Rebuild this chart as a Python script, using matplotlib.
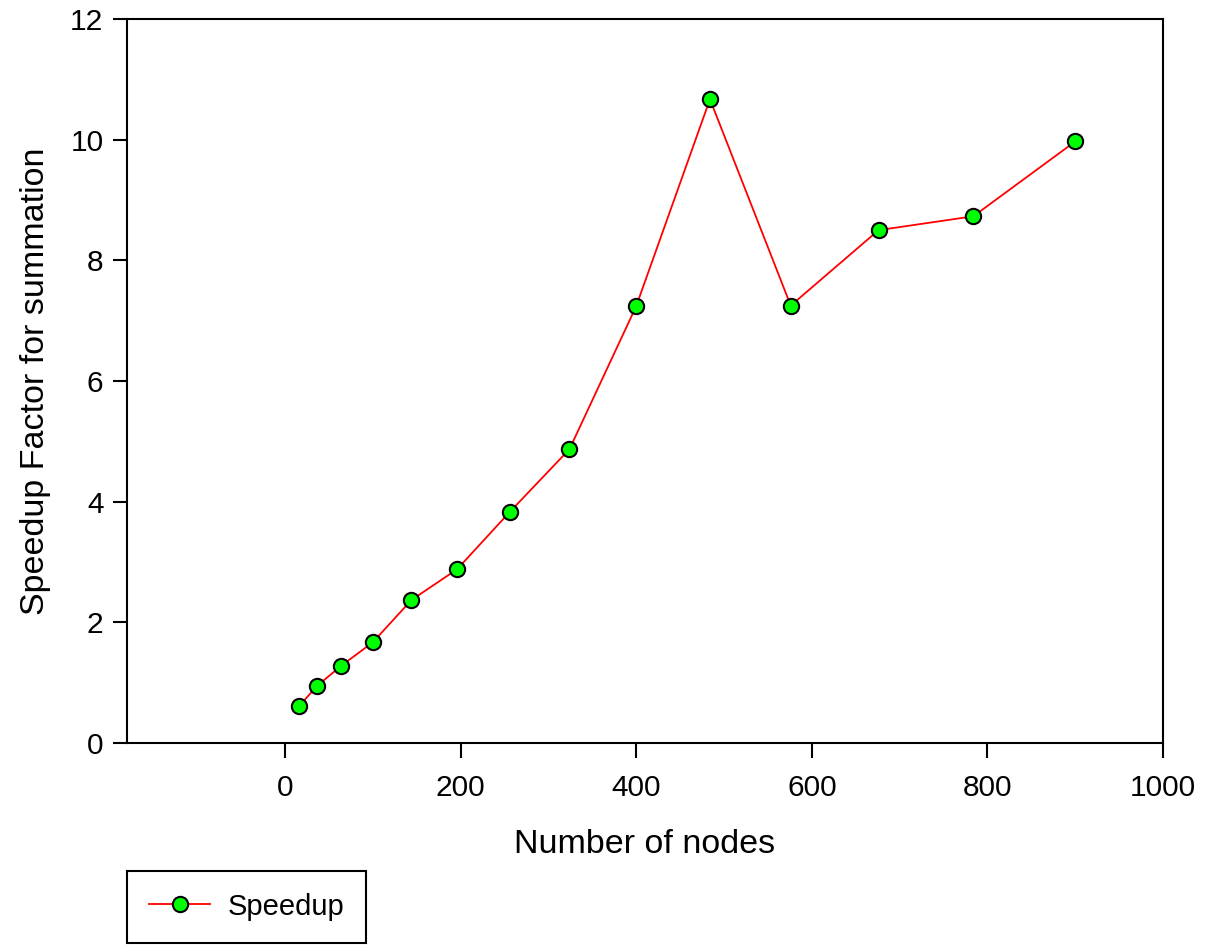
import matplotlib
matplotlib.use("Agg")
import matplotlib.pyplot as plt

plt.rcParams['font.family'] = ['Liberation Sans', 'DejaVu Sans']

nodes = [16, 36, 64, 100, 144, 196, 256, 324, 400, 484, 576, 676, 784, 900]
speedup = [0.61, 0.94, 1.28, 1.67, 2.37, 2.88, 3.83, 4.87, 7.24, 10.67, 7.25, 8.50, 8.73, 9.97]

fig = plt.figure(figsize=(12.07, 9.52), dpi=100)
ax = fig.add_axes([127/1207, 1 - 743/952, (1163-127)/1207, (743-19)/952])

line, = ax.plot(nodes, speedup, color="red", linewidth=1.3, marker="o", markersize=11,
                markerfacecolor="#00ff00", markeredgecolor="black", markeredgewidth=1.5,
                label="Speedup")

ax.set_xlim(-180, 1000)
ax.set_ylim(0, 12)
ax.set_xticks([0, 200, 400, 600, 800, 1000])
ax.set_yticks([0, 2, 4, 6, 8, 10, 12])
ax.tick_params(direction="out", length=10, width=1.5, labelsize=21.5, pad=7)
ax.tick_params(axis="x", length=11, pad=11)
for s in ax.spines.values():
    s.set_linewidth(1.5)

ax.set_xlabel("Number of nodes", fontsize=24.5, labelpad=20)
ax.set_ylabel("Speedup Factor for summation", fontsize=24.5, labelpad=14)

leg = fig.legend(handles=[line], loc="upper left",
                 bbox_to_anchor=(127/1207, 1 - 871/952),
                 fontsize=21, fancybox=False, edgecolor="black",
                 framealpha=1, borderpad=0.75, handlelength=2.1, handletextpad=0.6,
                 handleheight=0.8, borderaxespad=0)
leg.get_frame().set_linewidth(1.5)

fig.savefig("out.png", dpi=100)
